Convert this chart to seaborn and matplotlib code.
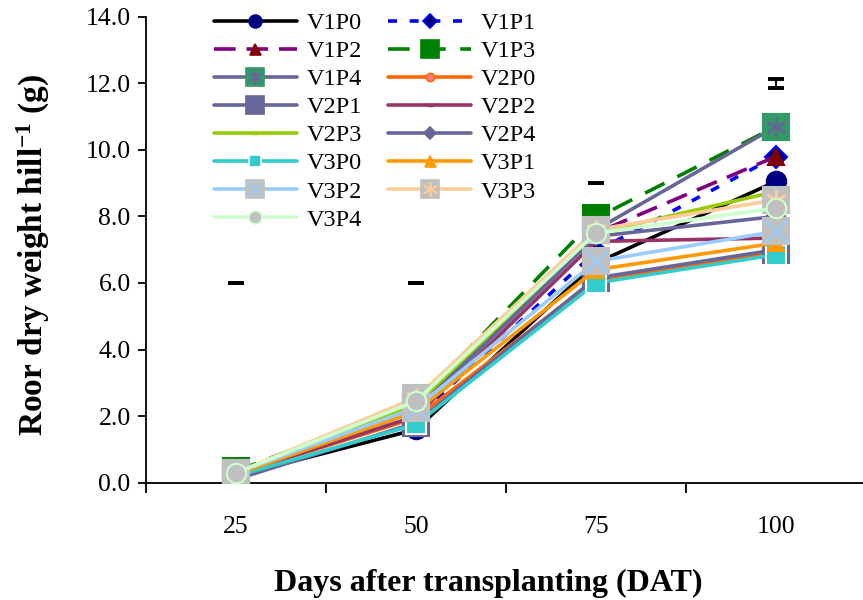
import pandas as pd
import seaborn as sns
import matplotlib
matplotlib.use("Agg")
import matplotlib.pyplot as plt
from matplotlib.lines import Line2D
from matplotlib.legend_handler import HandlerTuple

# days after transplanting (categories on the x axis)
DAYS = ["25", "50", "75", "100"]

# root dry weight per hill (g)
V1P0 = [0.20, 1.60, 6.60, 9.05]
V1P1 = [0.30, 1.95, 6.95, 9.80]
V1P2 = [0.30, 2.20, 7.50, 9.80]
V1P3 = [0.35, 2.40, 7.95, 10.70]
V1P4 = [0.30, 2.25, 7.60, 10.70]
V2P0 = [0.25, 1.95, 6.10, 6.90]
V2P1 = [0.10, 1.80, 6.15, 7.00]
V2P2 = [0.25, 2.00, 7.25, 7.35]
V2P3 = [0.30, 2.35, 7.50, 8.75]
V2P4 = [0.25, 2.15, 7.40, 8.00]
V3P0 = [0.20, 1.75, 6.00, 6.85]
V3P1 = [0.25, 2.15, 6.40, 7.20]
V3P2 = [0.30, 2.25, 6.65, 7.55]
V3P3 = [0.30, 2.55, 7.60, 8.50]
V3P4 = [0.30, 2.45, 7.50, 8.25]

# LSD marks drawn above each date
LSD_Y = [6.0, 6.0, 9.0, 12.0]
LSD_ERR = [0.0, 0.0, 0.0, 0.14]

SERIES = {
    "V1P0": V1P0, "V1P1": V1P1, "V1P2": V1P2, "V1P3": V1P3, "V1P4": V1P4,
    "V2P0": V2P0, "V2P1": V2P1, "V2P2": V2P2, "V2P3": V2P3, "V2P4": V2P4,
    "V3P0": V3P0, "V3P1": V3P1, "V3P2": V3P2, "V3P3": V3P3, "V3P4": V3P4,
}

ASTER = (6, 2, 0)
# line colour, dashes, marker, marker face, marker edge, size, overlay marker, overlay colour
STYLE = {
    "V1P0": ("black", None, "o", "#000080", "#000080", 14, None, None),
    "V1P1": ("#0000FF", (2.5, 3.5), "D", "#000080", "#0000FF", 11, None, None),
    "V1P2": ("#800080", (6, 3), "^", "#800000", "#800000", 12, None, None),
    "V1P3": ("#008000", (6, 4), "s", "#008000", "#008000", 19, None, None),
    "V1P4": ("#666699", None, "s", "#339966", "#339966", 19, ASTER, "#666699"),
    "V2P0": ("#FF6600", None, "o", "#FF8080", "#FF6600", 9, None, None),
    "V2P1": ("#666699", None, "s", "#666699", "#666699", 19, None, None),
    "V2P2": ("#993366", None, "_", "#993366", "#993366", 6, None, None),
    "V2P3": ("#99CC00", None, "_", "#99CC00", "#99CC00", 6, None, None),
    "V2P4": ("#666699", None, "D", "#666699", "#666699", 9, None, None),
    "V3P0": ("#33CCCC", None, "s", "#33CCCC", "white", 14, None, None),
    "V3P1": ("#FF9900", None, "^", "#FF9900", "#FF9900", 12, None, None),
    "V3P2": ("#99CCFF", None, "s", "#C0C0C0", "#C0C0C0", 19, "x", "#99CCFF"),
    "V3P3": ("#FFCC99", None, "s", "#C0C0C0", "#C0C0C0", 19, ASTER, "#FFCC99"),
    "V3P4": ("#CCFFCC", None, "o", "#C0C0C0", "#CCFFCC", 14, None, None),
}

rows = []
for name, vals in SERIES.items():
    for d, v in zip(DAYS, vals):
        rows.append({"DAT": d, "weight": v, "series": name})
df = pd.DataFrame(rows)

sns.set_style("ticks")
plt.rcParams["font.family"] = ["Liberation Serif", "DejaVu Serif"]
plt.rcParams["mathtext.fontset"] = "custom"
plt.rcParams["mathtext.rm"] = "Liberation Serif:bold"
plt.rcParams["mathtext.it"] = "Liberation Serif:bold"
plt.rcParams["mathtext.bf"] = "Liberation Serif:bold"
for k in ("text.color", "axes.labelcolor", "xtick.color", "ytick.color"):
    plt.rcParams[k] = "black"

fig = plt.figure(figsize=(8.63, 6.0), dpi=100)
ax = fig.add_axes([146 / 863, 117.3 / 600, 720 / 863, 466 / 600])

handles = {}
for z, (name, vals) in enumerate(SERIES.items()):
    lc, dash, mk, mf, me, ms, over, oc = STYLE[name]
    sub = df[df.series == name]
    sns.lineplot(data=sub, x="DAT", y="weight", ax=ax, sort=False, color=lc,
                 linewidth=2.6, marker=mk, markersize=ms, markerfacecolor=mf,
                 markeredgecolor=me, markeredgewidth=1.5 if mk != "_" else 3,
                 legend=False, zorder=3 + z)
    line = ax.lines[-1]
    if dash is not None:
        line.set_dashes(dash)
    if over is not None:
        ax.plot(sub["DAT"], sub["weight"], ls="none", marker=over, markersize=ms * 0.8,
                markeredgecolor=oc, markeredgewidth=1.8, zorder=3.5 + z)
    h = Line2D([], [], color=lc, lw=2.6, marker=mk, markersize=ms * 0.66,
               markerfacecolor=mf, markeredgecolor=me,
               markeredgewidth=1.2 if mk != "_" else 2.5)
    if dash is not None:
        h.set_dashes(dash)
    if over is not None:
        h2 = Line2D([], [], ls="none", marker=over, markersize=ms * 0.55,
                    markeredgecolor=oc, markeredgewidth=1.3)
        handles[name] = (h, h2)
    else:
        handles[name] = h

ax.errorbar(DAYS, LSD_Y, yerr=LSD_ERR, fmt="none", ecolor="black",
            elinewidth=1.5, capsize=5.5, capthick=2.8, zorder=30)

ax.set_xlim(-0.5, 3.5)
ax.set_ylim(0, 14)
ax.set_yticks(range(0, 15, 2))
ax.set_yticklabels([f"{v:.1f}" for v in range(0, 15, 2)])
ax.set_xticks(range(len(DAYS)))
ax.set_xticklabels(DAYS)
ax.set_xticks([-0.5, 0.5, 1.5, 2.5, 3.5], minor=True)
ax.tick_params(axis="x", which="major", length=0, pad=24, labelsize=18.5)
ax.tick_params(axis="x", which="minor", length=7, width=1.3, direction="out")
ax.tick_params(axis="y", length=6, width=1.3, direction="out", pad=5, labelsize=18.5)
sns.despine(ax=ax)
for s in ("left", "bottom"):
    ax.spines[s].set_linewidth(1.3)
    ax.spines[s].set_color("black")

ax.set_xlabel("Days after transplanting (DAT)", fontsize=23, fontweight="bold")
ax.xaxis.set_label_coords(0.475, -0.185)
ax.set_ylabel("Roor dry weight hill$^{-1}$ (g)", fontsize=24, fontweight="bold")
ax.yaxis.set_label_coords(-0.13, 0.49)

# Excel fills the legend row by row; matplotlib fills column by column
names = list(SERIES.keys())
order = names[0::2] + names[1::2]
fig.legend([handles[n] for n in order], order, ncol=2, frameon=False,
           loc="upper left", bbox_to_anchor=(214 / 863, 1 - 12 / 600),
           borderpad=0, borderaxespad=0, fontsize=17.5, handlelength=3.4,
           handletextpad=0.4, columnspacing=1.1, labelspacing=0.25,
           handler_map={tuple: HandlerTuple(ndivide=1, pad=0)})

fig.savefig("out.png", dpi=100)
